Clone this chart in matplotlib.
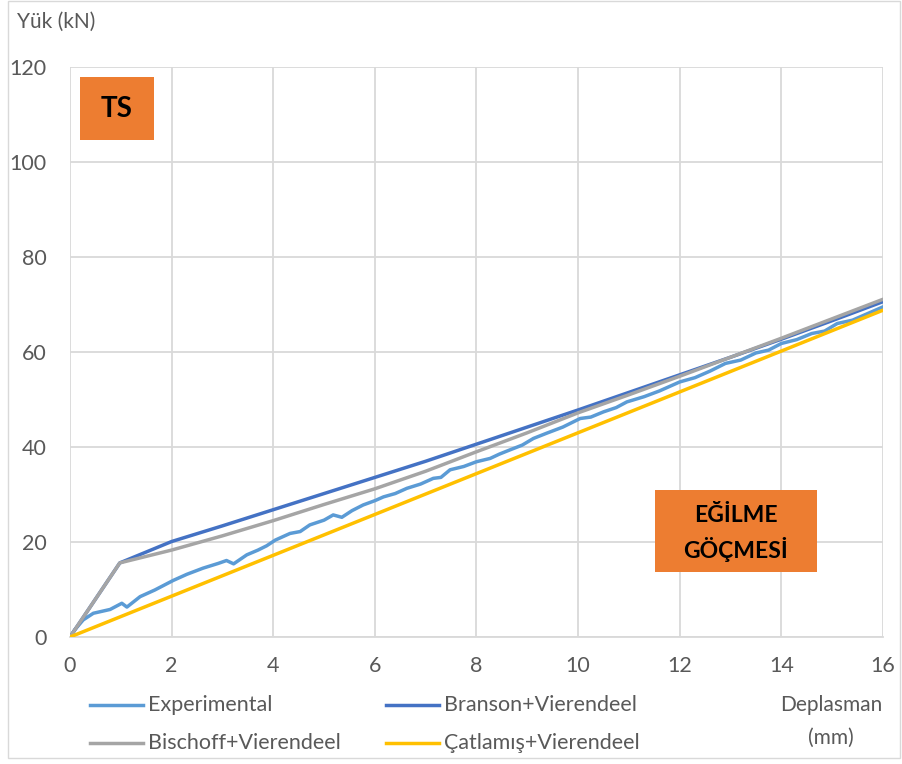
import matplotlib
matplotlib.use("Agg")
import matplotlib.pyplot as plt
from matplotlib.lines import Line2D
from matplotlib.patches import Rectangle

plt.rcParams['font.family'] = ['Lato', 'DejaVu Sans']

# Load-displacement data (displacement in mm, load in kN)
exp_x = [0, 0.1, 0.26, 0.46, 0.79, 1.02, 1.12, 1.38, 1.67, 2.03, 2.3, 2.62, 2.92, 3.08,
         3.22, 3.48, 3.7, 3.87, 4.04, 4.33, 4.53, 4.72, 5.0, 5.18, 5.35, 5.55, 5.77,
         6.0, 6.17, 6.4, 6.63, 6.9, 7.15, 7.3, 7.48, 7.75, 8.0, 8.27, 8.45, 8.66, 8.9,
         9.12, 9.38, 9.7, 10.04, 10.25, 10.5, 10.75, 10.96, 11.3, 11.6, 12.0, 12.3,
         12.6, 12.9, 13.2, 13.5, 13.75, 14.0, 14.3, 14.6, 14.85, 15.1, 15.4, 15.7, 16.0]
exp_y = [0, 1.6, 3.6, 5.0, 5.8, 7.1, 6.3, 8.5, 9.9, 11.9, 13.2, 14.5, 15.5, 16.1,
         15.4, 17.3, 18.3, 19.2, 20.4, 21.8, 22.2, 23.6, 24.6, 25.7, 25.2, 26.6, 27.8,
         28.7, 29.5, 30.2, 31.3, 32.2, 33.4, 33.6, 35.2, 35.9, 36.9, 37.6, 38.5, 39.4, 40.4,
         41.8, 42.9, 44.2, 46.0, 46.3, 47.4, 48.3, 49.5, 50.6, 51.8, 53.7, 54.6,
         56.0, 57.6, 58.3, 59.8, 60.4, 61.8, 62.6, 63.9, 64.4, 66.0, 66.7, 68.1, 69.5]

branson_x = [0, 0.98, 2, 3, 4, 5, 6, 7, 8, 9, 10, 11, 12, 13, 14, 15, 16]
branson_y = [0, 15.6, 20.1, 23.4, 26.8, 30.2, 33.6, 37.0, 40.6, 44.2, 47.8, 51.5,
             55.2, 58.9, 62.7, 66.6, 70.6]

bischoff_x = [0, 0.98, 2, 3, 4, 5, 6, 7, 8, 9, 10, 11, 12, 13, 14, 15, 16]
bischoff_y = [0, 15.6, 18.3, 21.3, 24.5, 27.9, 31.2, 34.9, 39.0, 43.0, 47.2, 51.0,
              54.9, 58.9, 62.9, 67.0, 71.1]

catlamis_x = [0, 16]
catlamis_y = [0, 68.8]

x_ticks = [0, 2, 4, 6, 8, 10, 12, 14, 16]
y_ticks = [0, 20, 40, 60, 80, 100, 120]

labels = ['Experimental', 'Branson+Vierendeel', 'Bischoff+Vierendeel', 'Çatlamış+Vierendeel']
colors = ['#5B9BD5', '#4472C4', '#A5A5A5', '#FFC000']

TEXT = '#595959'
W, H = 903, 764
fig = plt.figure(figsize=(W / 100, H / 100), dpi=100)
ax = fig.add_axes([70 / W, 1 - 637 / H, (883 - 70) / W, (637 - 67) / H])

series = [(exp_x, exp_y), (branson_x, branson_y), (bischoff_x, bischoff_y), (catlamis_x, catlamis_y)]
for i, ((xs, ys), lab, col) in enumerate(zip(series, labels, colors)):
    ax.plot(xs, ys, color=col, lw=2.5, label=lab, zorder=3 + i,
            solid_joinstyle='round', solid_capstyle='round')

ax.set_xlim(0, 16)
ax.set_ylim(0, 120)
ax.set_xticks(x_ticks)
ax.set_yticks(y_ticks)
ax.grid(True, color='#D9D9D9', lw=1.3, zorder=0)
ax.set_axisbelow(True)
ax.tick_params(length=0, labelsize=15.5, labelcolor=TEXT)
ax.tick_params(axis='x', pad=14)
ax.tick_params(axis='y', pad=17)
for side in ['top', 'right', 'left']:
    ax.spines[side].set_visible(False)
ax.spines['bottom'].set_color('#D9D9D9')
ax.spines['bottom'].set_linewidth(1.3)

# Axis titles
fig.text(17 / W, 1 - 22 / H, 'Yük (kN)', fontsize=15, color=TEXT, va='center', ha='left')
fig.text(831 / W, 1 - 705 / H, 'Deplasman', fontsize=15, color=TEXT, va='center', ha='center')
fig.text(831 / W, 1 - 738 / H, '(mm)', fontsize=15, color=TEXT, va='center', ha='center')

# Annotation boxes
fig.patches.append(Rectangle((80 / W, 1 - 140 / H), 74 / W, 63 / H, transform=fig.transFigure,
                             facecolor='#ED7D31', edgecolor='none', zorder=10))
fig.text(117 / W, 1 - 109 / H, 'TS', fontsize=20, fontweight='bold', color='black',
         ha='center', va='center', zorder=11)
fig.patches.append(Rectangle((655 / W, 1 - 572 / H), 162 / W, 82 / H, transform=fig.transFigure,
                             facecolor='#ED7D31', edgecolor='none', zorder=10))
fig.text(736 / W, 1 - 515 / H, 'EĞİLME', fontsize=16.5, fontweight='bold', color='black',
         ha='center', va='center', zorder=11)
fig.text(736 / W, 1 - 549 / H, 'GÖÇMESİ', fontsize=16.5, fontweight='bold', color='black',
         ha='center', va='center', zorder=11)

# Legend entries drawn row by row
entries = [(0, 90, 705), (1, 386, 705), (2, 90, 743), (3, 386, 743)]
for idx, x0, y0 in entries:
    fig.add_artist(Line2D([x0 / W, (x0 + 53) / W], [1 - y0 / H, 1 - y0 / H],
                          transform=fig.transFigure, color=colors[idx], lw=2.5))
    fig.text((x0 + 58) / W, 1 - y0 / H, labels[idx], fontsize=15.5, color=TEXT,
             ha='left', va='center')

# Chart area border
fig.patches.append(Rectangle((8 / W, 1 - 758 / H), (900 - 8) / W, (758 - 1) / H,
                             transform=fig.transFigure, facecolor='none',
                             edgecolor='#D9D9D9', lw=1.0))

fig.savefig('out.png', dpi=100)
